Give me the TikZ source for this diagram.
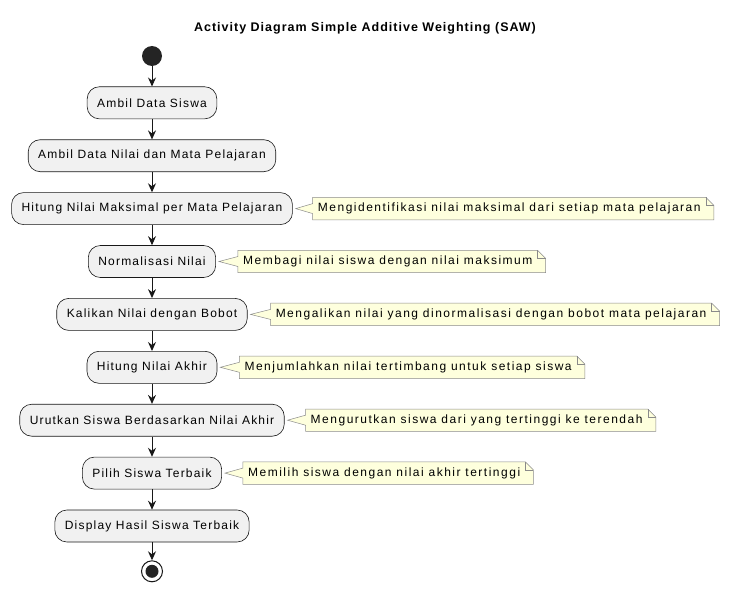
\documentclass[tikz,border=0pt]{standalone}
\usepackage{fontspec}
\setmainfont{Liberation Sans}[LetterSpace=10]
\usepackage{tikz}
\usetikzlibrary{arrows.meta,positioning,backgrounds}
\definecolor{actfill}{HTML}{F1F1F1}
\definecolor{actline}{HTML}{181818}
\definecolor{notefill}{HTML}{FEFFDD}
\definecolor{noteline}{HTML}{8A8A8A}

% note outline with folded corner and pointer to its activity
\newcommand{\notefor}[2]{%
  \begin{pgfonlayer}{background}
    \draw[noteshape] (#1.north west) -- (#1.north east)
      -- ([xshift=8pt,yshift=-8pt]#1.north east) -- ([xshift=8pt]#1.south east)
      -- (#1.south west) -- ([yshift=-5pt]#1.west) -- ([xshift=3pt]#2.east)
      -- ([yshift=5pt]#1.west) -- cycle;
    \draw[noteline, line width=0.5pt] (#1.north east) -- ([yshift=-8pt]#1.north east)
      -- ([xshift=8pt,yshift=-8pt]#1.north east);
  \end{pgfonlayer}}

\begin{document}
\begin{tikzpicture}[
  x=1pt, y=-1pt,
  node distance=20.3pt and 21pt,
  act/.style={draw=actline, line width=0.6pt, fill=actfill, rounded corners=12pt, minimum height=32pt, inner xsep=10pt, font=\fontsize{12}{14}\selectfont},
  note/.style={inner xsep=5pt, inner ysep=0pt, minimum height=22pt, font=\fontsize{12}{14}\selectfont\addfontfeature{LetterSpace=12.5}},
  noteshape/.style={draw=noteline, line width=0.5pt, fill=notefill},
  arr/.style={-{Stealth[length=9pt, width=8pt, inset=3pt]}, line width=1pt, actline},
  >=Stealth
]
\useasboundingbox (0,0) rectangle (734,594);

\node[font=\fontsize{12.5}{15}\selectfont\bfseries\addfontfeature{LetterSpace=8}] (title) at (365,28) {Activity Diagram Simple Additive Weighting (SAW)};

\node[circle, fill=actline!95, minimum size=20pt, inner sep=0pt] (start) at (152,56) {};
\node[act, below=of start] (ambilsiswa) {Ambil Data Siswa};
\node[act, below=of ambilsiswa] (ambilnilai) {Ambil Data Nilai dan Mata Pelajaran};
\node[act, below=of ambilnilai] (hitungmaks) {Hitung Nilai Maksimal per Mata Pelajaran};
\node[act, below=of hitungmaks] (normalisasi) {Normalisasi Nilai};
\node[act, below=of normalisasi] (kalikan) {Kalikan Nilai dengan Bobot};
\node[act, below=of kalikan] (hitungakhir) {Hitung Nilai Akhir};
\node[act, below=of hitungakhir] (urutkan) {Urutkan Siswa Berdasarkan Nilai Akhir};
\node[act, below=of urutkan] (pilih) {Pilih Siswa Terbaik};
\node[act, below=of pilih] (display) {Display Hasil Siswa Terbaik};
\node[circle, draw=actline, line width=1pt, minimum size=21pt, inner sep=0pt, below=18pt of display] (stop) {};
\node[circle, fill=actline!95, minimum size=13pt, inner sep=0pt] (stopdot) at (stop.center) {};

\node[note, right=20pt of hitungmaks] (notemaks) {Mengidentifikasi nilai maksimal dari setiap mata pelajaran};
\node[note, right=22pt of normalisasi] (notenorm) {Membagi nilai siswa dengan nilai maksimum};
\node[note, right=23pt of kalikan] (notekali) {Mengalikan nilai yang dinormalisasi dengan bobot mata pelajaran};
\node[note, right=22pt of hitungakhir] (noteakhir) {Menjumlahkan nilai tertimbang untuk setiap siswa};
\node[note, right=21pt of urutkan] (noteurut) {Mengurutkan siswa dari yang tertinggi ke terendah};
\node[note, right=21pt of pilih] (notepilih) {Memilih siswa dengan nilai akhir tertinggi};

\notefor{notemaks}{hitungmaks}
\notefor{notenorm}{normalisasi}
\notefor{notekali}{kalikan}
\notefor{noteakhir}{hitungakhir}
\notefor{noteurut}{urutkan}
\notefor{notepilih}{pilih}

\draw[arr] (start) -- (ambilsiswa);
\draw[arr] (ambilsiswa) -- (ambilnilai);
\draw[arr] (ambilnilai) -- (hitungmaks);
\draw[arr] (hitungmaks) -- (normalisasi);
\draw[arr] (normalisasi) -- (kalikan);
\draw[arr] (kalikan) -- (hitungakhir);
\draw[arr] (hitungakhir) -- (urutkan);
\draw[arr] (urutkan) -- (pilih);
\draw[arr] (pilih) -- (display);
\draw[arr] (display) -- (stop);

\end{tikzpicture}
\end{document}
